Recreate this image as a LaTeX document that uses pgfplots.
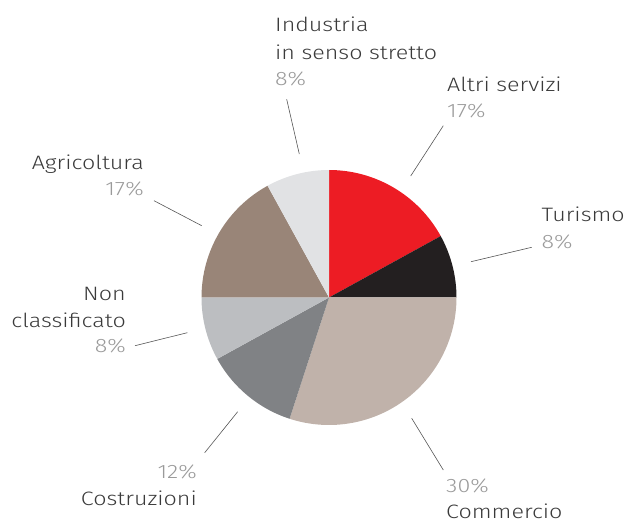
\documentclass[border=0pt]{standalone}
\usepackage{pgfplots}
\pgfplotsset{compat=1.18}
\usepackage{fontspec}
\setmainfont{Fira Sans Light}[FakeStretch=1.2]
\definecolor{cRed}{HTML}{ED1C24}
\definecolor{cBlack}{HTML}{231F20}
\definecolor{cComm}{HTML}{C0B2AA}
\definecolor{cCost}{HTML}{808285}
\definecolor{cNon}{HTML}{BCBEC1}
\definecolor{cAgri}{HTML}{998578}
\definecolor{cInd}{HTML}{E1E2E4}
\definecolor{cLab}{HTML}{3A3A3A}
\definecolor{cPct}{HTML}{9A9A9A}
\definecolor{cLine}{HTML}{555555}
\begin{document}
\begin{tikzpicture}
\begin{axis}[
  x=1pt, y=1pt, scale only axis,
  xmin=0, xmax=630, ymin=0, ymax=523,
  hide axis, clip=false,
]
\path (axis cs:0,0) rectangle (axis cs:630,523);
% slices: percentage / colour, clockwise from 12 o'clock
\pgfplotsextra{
  \gdef\startang{90}
  \foreach \p/\c in {17/cRed, 8/cBlack, 30/cComm, 12/cCost, 8/cNon, 17/cAgri, 8/cInd} {
    \pgfmathsetmacro\endang{\startang-3.6*\p}
    \fill[\c] (axis cs:329,225.5) -- ++(\startang:127.5pt)
      arc[start angle=\startang, end angle=\endang, radius=127.5pt] -- cycle;
    \global\let\startang\endang
  }
}
% leader lines
\draw[cLine, line width=0.6pt] (axis cs:286.7,423.7) -- (axis cs:299.3,369);
\draw[cLine, line width=0.6pt] (axis cs:443.3,397.3) -- (axis cs:410.7,347);
\draw[cLine, line width=0.6pt] (axis cs:531.7,275.7) -- (axis cs:471,261.3);
\draw[cLine, line width=0.6pt] (axis cs:154,322.3) -- (axis cs:201.7,297.3);
\draw[cLine, line width=0.6pt] (axis cs:135,177.3) -- (axis cs:187.3,190.3);
\draw[cLine, line width=0.6pt] (axis cs:237.7,111.3) -- (axis cs:204.7,70.3);
\draw[cLine, line width=0.6pt] (axis cs:411.7,104.7) -- (axis cs:443.3,53);
% labels
\tikzset{lab/.style={inner sep=0pt, text depth=0pt, font=\fontsize{19.4}{26}\selectfont}}
\node[lab, anchor=base west, text=cLab] at (axis cs:275,491) {Industria};
\node[lab, anchor=base west, text=cLab] at (axis cs:275,463) {in senso stretto};
\node[lab, anchor=base west, text=cPct] at (axis cs:275,437) {8\%};
\node[lab, anchor=base west, text=cLab] at (axis cs:447,431) {Altri servizi};
\node[lab, anchor=base west, text=cPct] at (axis cs:447,405) {17\%};
\node[lab, anchor=base west, text=cLab] at (axis cs:541.5,301.3) {Turismo};
\node[lab, anchor=base west, text=cPct] at (axis cs:541.5,274) {8\%};
\node[lab, anchor=base east, text=cLab] at (axis cs:144,353) {Agricoltura};
\node[lab, anchor=base east, text=cPct] at (axis cs:144,327) {17\%};
\node[lab, anchor=base east, text=cLab] at (axis cs:126,222) {Non};
\node[lab, anchor=base east, text=cLab] at (axis cs:126,195.3) {classificato};
\node[lab, anchor=base east, text=cPct] at (axis cs:126,170) {8\%};
\node[lab, anchor=base east, text=cPct] at (axis cs:197,45) {12\%};
\node[lab, anchor=base east, text=cLab] at (axis cs:197,18) {Costruzioni};
\node[lab, anchor=base west, text=cPct] at (axis cs:446,31) {30\%};
\node[lab, anchor=base west, text=cLab] at (axis cs:446,4.5) {Commercio};
\end{axis}
\end{tikzpicture}
\end{document}
